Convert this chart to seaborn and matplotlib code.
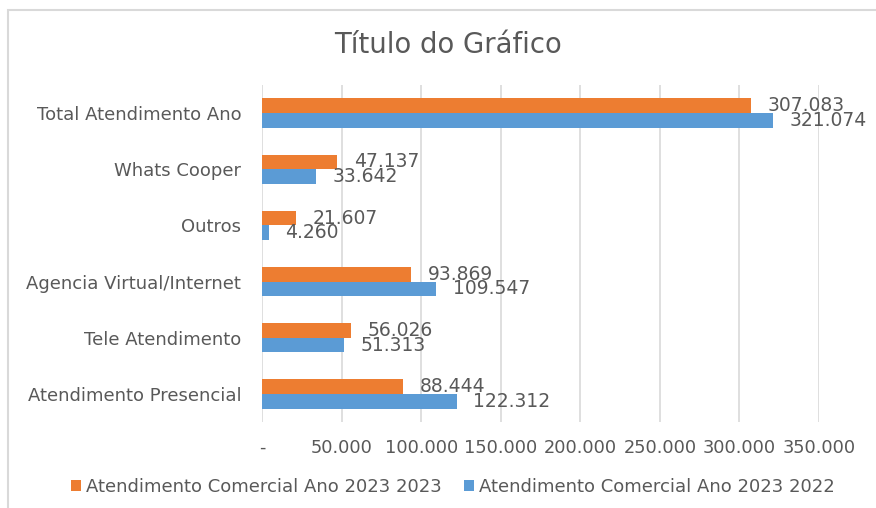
import pandas as pd
import matplotlib.pyplot as plt
import seaborn as sns
from matplotlib.patches import Rectangle

# Dados do gráfico
categorias = ['Total Atendimento Ano', 'Whats Cooper', 'Outros',
              'Agencia Virtual/Internet', 'Tele Atendimento', 'Atendimento Presencial']
serie_2023 = [307083, 47137, 21607, 93869, 56026, 88444]
serie_2022 = [321074, 33642, 4260, 109547, 51313, 122312]
nome_2023 = 'Atendimento Comercial Ano 2023 2023'
nome_2022 = 'Atendimento Comercial Ano 2023 2022'
x_ticks = [0, 50000, 100000, 150000, 200000, 250000, 300000, 350000]

cor_laranja = '#ED7D31'
cor_azul = '#5B9BD5'
cor_texto = '#595959'
cor_grade = '#D9D9D9'

df = pd.DataFrame({
    'categoria': categorias * 2,
    'valor': serie_2023 + serie_2022,
    'serie': [nome_2023] * len(categorias) + [nome_2022] * len(categorias),
})


def fmt_br(v):
    return '-' if v == 0 else f'{v:,}'.replace(',', '.')


sns.set_theme(style="white")
plt.rcParams['font.family'] = ['DejaVu Sans']

fig = plt.figure(figsize=(8.76, 5.08), dpi=100)
ax = fig.add_axes([262 / 876, 1 - 422 / 508, (819 - 262) / 876, (422 - 85) / 508])

sns.barplot(data=df, y='categoria', x='valor', hue='serie', orient='h',
            order=categorias, hue_order=[nome_2023, nome_2022],
            palette=[cor_laranja, cor_azul], width=0.52, linewidth=0,
            saturation=1, ax=ax)

for cont in ax.containers:
    ax.bar_label(cont, labels=[fmt_br(int(b.get_width())) for b in cont],
                 padding=12, fontsize=13.5, color=cor_texto)

ax.set_xlim(0, 350000)
ax.set_xticks(x_ticks)
ax.set_xticklabels([fmt_br(t) for t in x_ticks], fontsize=12.8, color=cor_texto)
ax.tick_params(axis='y', labelsize=13, labelcolor=cor_texto, length=0, pad=15)
ax.tick_params(axis='x', length=0, pad=12)
ax.set_xlabel('')
ax.set_ylabel('')
for s in ax.spines.values():
    s.set_visible(False)
ax.xaxis.grid(True, color=cor_grade, linewidth=1.2)
ax.set_axisbelow(True)

handles, labels = ax.get_legend_handles_labels()
ax.get_legend().remove()
fig.legend(handles, labels, loc='center', bbox_to_anchor=(453 / 876, 1 - 487 / 508),
           ncol=2, frameon=False, fontsize=13, labelcolor=cor_texto,
           handlelength=0.55, handleheight=0.55, handletextpad=0.3, columnspacing=1.2)

fig.text(448 / 876, 1 - 45 / 508, 'Título do Gráfico', ha='center', va='center',
         fontsize=19.8, color=cor_texto)

# moldura da área do gráfico
fig.patches.append(Rectangle((8 / 876, -0.05), 1.2, 1 - 10 / 508 + 0.05,
                             transform=fig.transFigure, fill=False,
                             edgecolor=cor_grade, linewidth=1.5))

fig.savefig('out.png', dpi=100)
